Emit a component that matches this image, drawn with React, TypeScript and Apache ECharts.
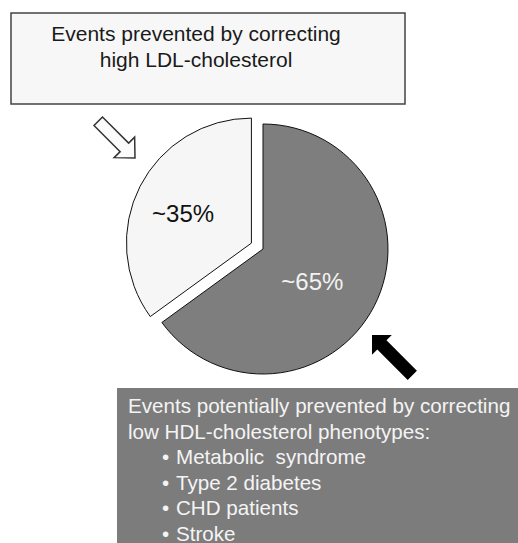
import React, { useEffect, useRef } from "react";
import * as echarts from "echarts";

const categories = ["Low HDL-cholesterol phenotypes", "High LDL-cholesterol"];
const values = [65, 35];
const sliceLabels = ["~65%", "~35%"];
const topBoxLines = ["Events prevented by correcting", "high LDL-cholesterol"];
const bottomBoxHeader = ["Events potentially prevented by correcting", "low HDL-cholesterol phenotypes:"];
const bottomBoxBullets = ["Metabolic  syndrome", "Type 2 diabetes", "CHD patients", "Stroke"];

const FONT = "'Liberation Sans', Arial, Helvetica, sans-serif";

function arrowPoints(tipX: number, tipY: number, angleDeg: number, len: number, headLen: number, headHalf: number, shaftHalf: number) {
  const a = (angleDeg * Math.PI) / 180;
  const ux = Math.cos(a), uy = Math.sin(a);
  const nx = -uy, ny = ux;
  const tx = tipX - ux * len, ty = tipY - uy * len;
  const bx = tipX - ux * headLen, by = tipY - uy * headLen;
  return [
    [tx + nx * shaftHalf, ty + ny * shaftHalf],
    [bx + nx * shaftHalf, by + ny * shaftHalf],
    [bx + nx * headHalf, by + ny * headHalf],
    [tipX, tipY],
    [bx - nx * headHalf, by - ny * headHalf],
    [bx - nx * shaftHalf, by - ny * shaftHalf],
    [tx - nx * shaftHalf, ty - ny * shaftHalf],
  ];
}

export default function App() {
  const ref = useRef<HTMLDivElement>(null);
  useEffect(() => {
    if (!ref.current) return;
    const chart = echarts.init(ref.current, null, { renderer: "svg" });
    const colors = ["#7e7e7e", "#f6f6f6"];
    const labelColors = ["#f2f2f2", "#111111"];
    const labelShift = [[-9, 3], [-10, 0]];

    const graphics: any[] = [];
    graphics.push({
      type: "rect",
      shape: { x: 11, y: 13, width: 394, height: 91 },
      style: { fill: "#f7f7f7", stroke: "#444444", lineWidth: 1.5 },
      z: 1,
    });
    topBoxLines.forEach((t, i) => {
      graphics.push({
        type: "text",
        x: 196,
        y: 33.5 + i * 26,
        style: { text: t, fill: "#1a1a1a", font: `21px ${FONT}`, textAlign: "center", textVerticalAlign: "middle" },
        z: 2,
      });
    });
    graphics.push({
      type: "polygon",
      shape: { points: arrowPoints(135, 158, 45, 52, 15, 14.5, 6) },
      style: { fill: "#fbfbfb", stroke: "#333333", lineWidth: 1.5 },
      z: 2,
    });
    graphics.push({
      type: "polygon",
      shape: { points: arrowPoints(372, 335, 225, 57, 14, 14, 6.5) },
      style: { fill: "#000000" },
      z: 2,
    });
    graphics.push({
      type: "rect",
      shape: { x: 117, y: 388, width: 420, height: 170 },
      style: { fill: "#7c7c7c" },
      z: 1,
    });
    bottomBoxHeader.forEach((t, i) => {
      graphics.push({
        type: "text",
        x: 128,
        y: 405.5 + i * 25.5,
        style: { text: t, fill: "#f4f4f4", font: `20.6px ${FONT}`, textVerticalAlign: "middle" },
        z: 2,
      });
    });
    bottomBoxBullets.forEach((t, i) => {
      const y = 405.5 + (i + 2) * 25.5;
      graphics.push({
        type: "text",
        x: 162,
        y,
        style: { text: "\u2022", fill: "#f4f4f4", font: `20.6px ${FONT}`, textVerticalAlign: "middle" },
        z: 2,
      });
      graphics.push({
        type: "text",
        x: 176,
        y,
        style: { text: t, fill: "#f4f4f4", font: `20.6px ${FONT}`, textVerticalAlign: "middle" },
        z: 2,
      });
    });

    chart.setOption({
      animation: false,
      backgroundColor: "#ffffff",
      graphic: graphics,
      series: [
        {
          type: "pie",
          center: [263, 249],
          radius: 125,
          startAngle: 90,
          clockwise: true,
          selectedMode: "single",
          selectedOffset: 13,
          emphasis: { disabled: true },
          silent: true,
          itemStyle: { borderColor: "#111111", borderWidth: 1 },
          labelLine: { show: false },
          labelLayout: (p: any) => ({ dx: labelShift[p.dataIndex][0], dy: labelShift[p.dataIndex][1] }),
          data: categories.map((c, i) => ({
            name: c,
            value: values[i],
            selected: i === 1,
            itemStyle: { color: colors[i] },
            label: {
              show: true,
              position: "inside",
              formatter: sliceLabels[i],
              color: labelColors[i],
              fontSize: 24,
              fontFamily: FONT,
            },
          })),
        },
      ],
    });
    return () => chart.dispose();
  }, []);
  return <div ref={ref} style={{ position: "fixed", left: 0, top: 0, width: 518, height: 543 }} />;
}
